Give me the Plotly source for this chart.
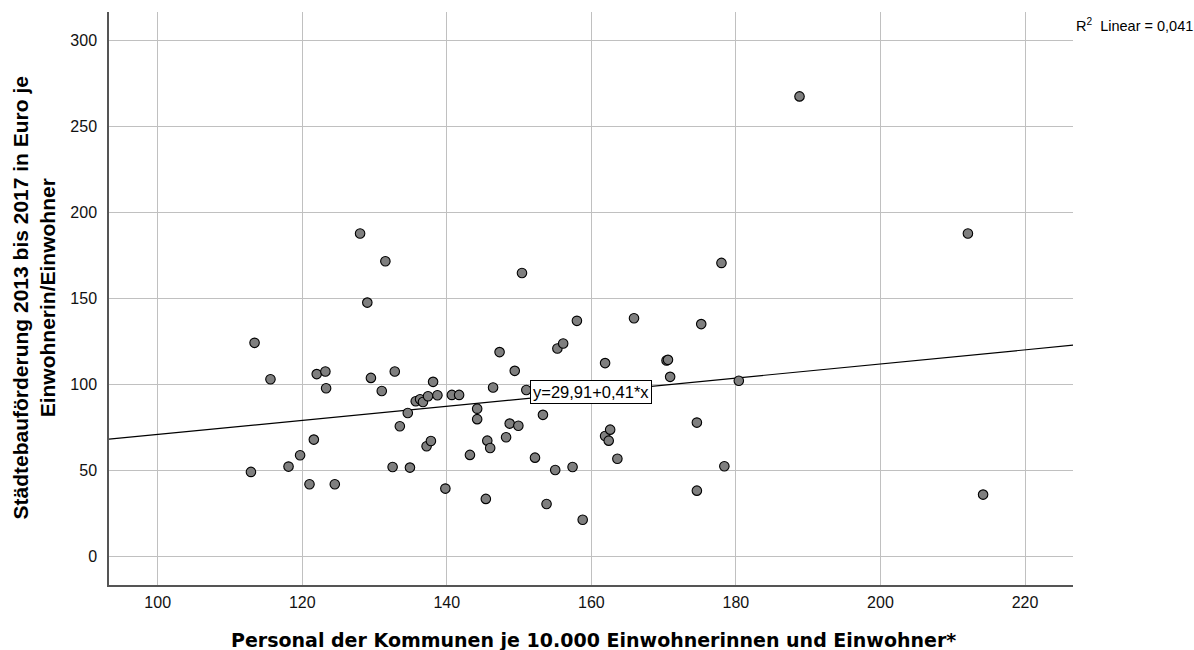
import plotly.graph_objects as go

# Data
personal = [112.9, 113.4, 115.6, 118.1, 119.7, 121.0, 121.6, 122.0, 123.2, 123.3,
            124.5, 128.0, 129.0, 129.5, 131.0, 131.5, 132.5, 132.8, 133.5, 134.6,
            134.9, 135.7, 136.3, 136.7, 137.2, 137.4, 137.8, 138.1, 138.7, 139.8,
            140.7, 141.7, 143.2, 144.2, 144.2, 145.4, 145.6, 146.0, 146.4, 147.3,
            148.2, 148.7, 149.4, 149.9, 150.4, 151.0, 152.2, 153.3, 153.8, 155.0,
            155.3, 156.1, 157.4, 158.0, 158.8, 161.9, 161.9, 162.4, 162.6, 163.6,
            165.9, 170.4, 170.6, 170.9, 174.6, 174.6, 175.2, 178.0, 178.4, 180.4,
            188.8, 212.1, 214.2]
foerderung = [49.1, 124.2, 103.0, 52.2, 58.8, 41.9, 67.9, 106.0, 107.5, 97.8,
              41.9, 187.8, 147.6, 103.8, 96.2, 171.7, 52.0, 107.5, 75.7, 83.4,
              51.6, 90.2, 91.4, 89.8, 64.0, 93.1, 67.1, 101.5, 93.7, 39.4,
              93.9, 93.9, 59.0, 85.9, 79.8, 33.4, 67.3, 63.0, 98.2, 118.8,
              69.3, 77.2, 107.9, 76.0, 164.8, 96.8, 57.4, 82.3, 30.4, 50.2,
              120.9, 123.8, 52.0, 137.0, 21.3, 112.4, 70.0, 67.3, 73.7, 56.8,
              138.5, 113.9, 114.3, 104.4, 77.8, 38.2, 135.1, 170.7, 52.4, 102.1,
              267.6, 187.8, 35.9]

fit_intercept = 29.91
fit_slope = 0.41
r2_text = "R<sup>2</sup>  Linear = 0,041"
eq_text = "y=29,91+0,41*x"

x_range = [93.26, 226.64]
y_range = [-16.7, 316.7]
x_ticks = [100, 120, 140, 160, 180, 200, 220]
y_ticks = [0, 50, 100, 150, 200, 250, 300]

ARIAL = "Arial, 'Liberation Sans', sans-serif"
WIDE = "'DejaVu Sans', Arial, sans-serif"

fig = go.Figure()

fit_x = x_range
fit_y = [fit_intercept + fit_slope * v for v in fit_x]
fig.add_trace(go.Scatter(x=fit_x, y=fit_y, mode="lines",
                         line=dict(color="black", width=1.2),
                         hoverinfo="skip", showlegend=False))

fig.add_trace(go.Scatter(x=personal, y=foerderung, mode="markers",
                         marker=dict(size=9.5, color="#7f7f7f",
                                     line=dict(color="black", width=1.1)),
                         showlegend=False))

fig.add_annotation(x=160, y=95.4, xref="x", yref="y", text=eq_text,
                   showarrow=False, font=dict(family=ARIAL, size=16.5, color="black"),
                   bgcolor="white", bordercolor="black", borderwidth=1, borderpad=2,
                   xanchor="center", yanchor="middle")

L, R, T, B = 109, 121, 12, 65
PW, PH = 1194 - L - R, 650 - T - B

def px_x(p):
    return (p - L) / PW

def px_y(p):
    return (650 - B - p) / PH

fig.add_annotation(x=px_x(1074), y=px_y(25), xref="paper", yref="paper", text=r2_text,
                   showarrow=False, font=dict(family=ARIAL, size=14.5, color="black"),
                   xanchor="left", yanchor="middle")

fig.add_annotation(x=px_x(33), y=0.5, xref="paper", yref="paper",
                   text="<b>Städtebauförderung 2013 bis 2017 in Euro je<br>Einwohnerin/Einwohner</b>",
                   showarrow=False, textangle=-90,
                   font=dict(family=ARIAL, size=21, color="black"),
                   xanchor="center", yanchor="middle")

fig.add_annotation(x=px_x(593), y=px_y(640), xref="paper", yref="paper",
                   text="<b>Personal der Kommunen je 10.000 Einwohnerinnen und Einwohner*</b>",
                   showarrow=False, font=dict(family=WIDE, size=19, color="black"),
                   xanchor="center", yanchor="middle")

fig.update_xaxes(range=x_range, tickvals=x_ticks, showgrid=True, gridcolor="#c0c0c0",
                 gridwidth=1, zeroline=False, showline=True, linecolor="#555555",
                 linewidth=1.5, ticks="", ticklabelstandoff=2,
                 tickfont=dict(family=ARIAL, size=16, color="#111111"),
                 automargin=False)
fig.update_yaxes(range=y_range, tickvals=y_ticks, showgrid=True, gridcolor="#c0c0c0",
                 gridwidth=1, zeroline=False, showline=True, linecolor="#555555",
                 linewidth=1.5, ticks="", ticklabelstandoff=7,
                 tickfont=dict(family=ARIAL, size=16, color="#111111"),
                 automargin=False)

fig.update_layout(width=1194, height=650,
                  margin=dict(l=L, r=R, t=T, b=B),
                  paper_bgcolor="white", plot_bgcolor="white",
                  font=dict(family=ARIAL))

fig.write_html("out.html")
